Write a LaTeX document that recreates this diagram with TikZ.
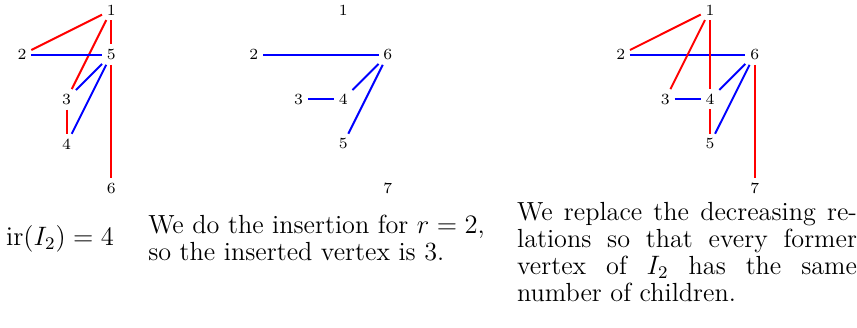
\documentclass[tikz,border=0pt]{standalone}
\usepackage{amsmath}
\usepackage{tikz}
\usetikzlibrary{positioning}

\begin{document}
\begin{tikzpicture}[
  x=0.707cm, y=0.707cm,
  vtx/.style={font=\scriptsize, inner sep=2pt},
  incr/.style={draw=blue, line width=0.9pt},
  decr/.style={draw=red, line width=0.9pt},
  txt/.style={inner sep=0pt, font=\fontsize{11.8}{12.3}\selectfont}
]
  \fill[white] (0cm,0cm) rectangle (13.56cm,-5.19cm);

  % first tree: I_2
  \begin{scope}[shift={(0.348cm,-0.158cm)}]
    \node[vtx] (a1) at (2, 0) {1};
    \node[vtx] (a2) at (0,-1) {2};
    \node[vtx] (a5) at (2,-1) {5};
    \node[vtx] (a3) at (1,-2) {3};
    \node[vtx] (a4) at (1,-3) {4};
    \node[vtx] (a6) at (2,-4) {6};

    \draw[decr] (a1) -- (a2);
    \draw[decr] (a1) -- (a3);
    \draw[decr] (a1) -- (a5);
    \draw[incr] (a2) -- (a5);
    \draw[incr] (a3) -- (a5);
    \draw[incr] (a4) -- (a5);
    \draw[decr] (a3) -- (a4);
    \draw[decr] (a5) -- (a6);
  \end{scope}

  % second tree: insertion
  \begin{scope}[shift={(4.019cm,-0.158cm)}]
    \node[vtx] (b1) at (2, 0) {1};
    \node[vtx] (b2) at (0,-1) {2};
    \node[vtx] (b6) at (3,-1) {6};
    \node[vtx] (b3) at (1,-2) {3};
    \node[vtx] (b4) at (2,-2) {4};
    \node[vtx] (b5) at (2,-3) {5};
    \node[vtx] (b7) at (3,-4) {7};

    \draw[incr] (b2) -- (b6);
    \draw[incr] (b3) -- (b4);
    \draw[incr] (b4) -- (b6);
    \draw[incr] (b5) -- (b6);
  \end{scope}

  % third tree: decreasing relations replaced
  \begin{scope}[shift={(9.826cm,-0.158cm)}]
    \node[vtx] (c1) at (2, 0) {1};
    \node[vtx] (c2) at (0,-1) {2};
    \node[vtx] (c6) at (3,-1) {6};
    \node[vtx] (c3) at (1,-2) {3};
    \node[vtx] (c4) at (2,-2) {4};
    \node[vtx] (c5) at (2,-3) {5};
    \node[vtx] (c7) at (3,-4) {7};

    \draw[incr] (c2) -- (c6);
    \draw[decr] (c1) -- (c2);
    \draw[decr] (c1) -- (c3);
    \draw[decr] (c1) -- (c4);
    \draw[incr] (c3) -- (c4);
    \draw[incr] (c4) -- (c6);
    \draw[incr] (c5) -- (c6);
    \draw[decr] (c4) -- (c5);
    \draw[decr] (c6) -- (c7);
  \end{scope}

  % captions
  \node[txt] (cap1) at (0.95cm,-3.78cm) {$\mathrm{ir}(I_2)=4$};
  \node[txt, anchor=west, align=left] (cap2) at (2.34cm,-3.77cm)
    {We do the insertion for $r=2$,\\so the inserted vertex is 3.};
  \node[txt, anchor=west, text width=5.38cm, align=justify] (cap3) at (8.18cm,-3.99cm)
    {We replace the decreasing re-\linebreak lations so that every former\linebreak
     vertex of $I_2$ has the same\linebreak number of children.};
\end{tikzpicture}
\end{document}
